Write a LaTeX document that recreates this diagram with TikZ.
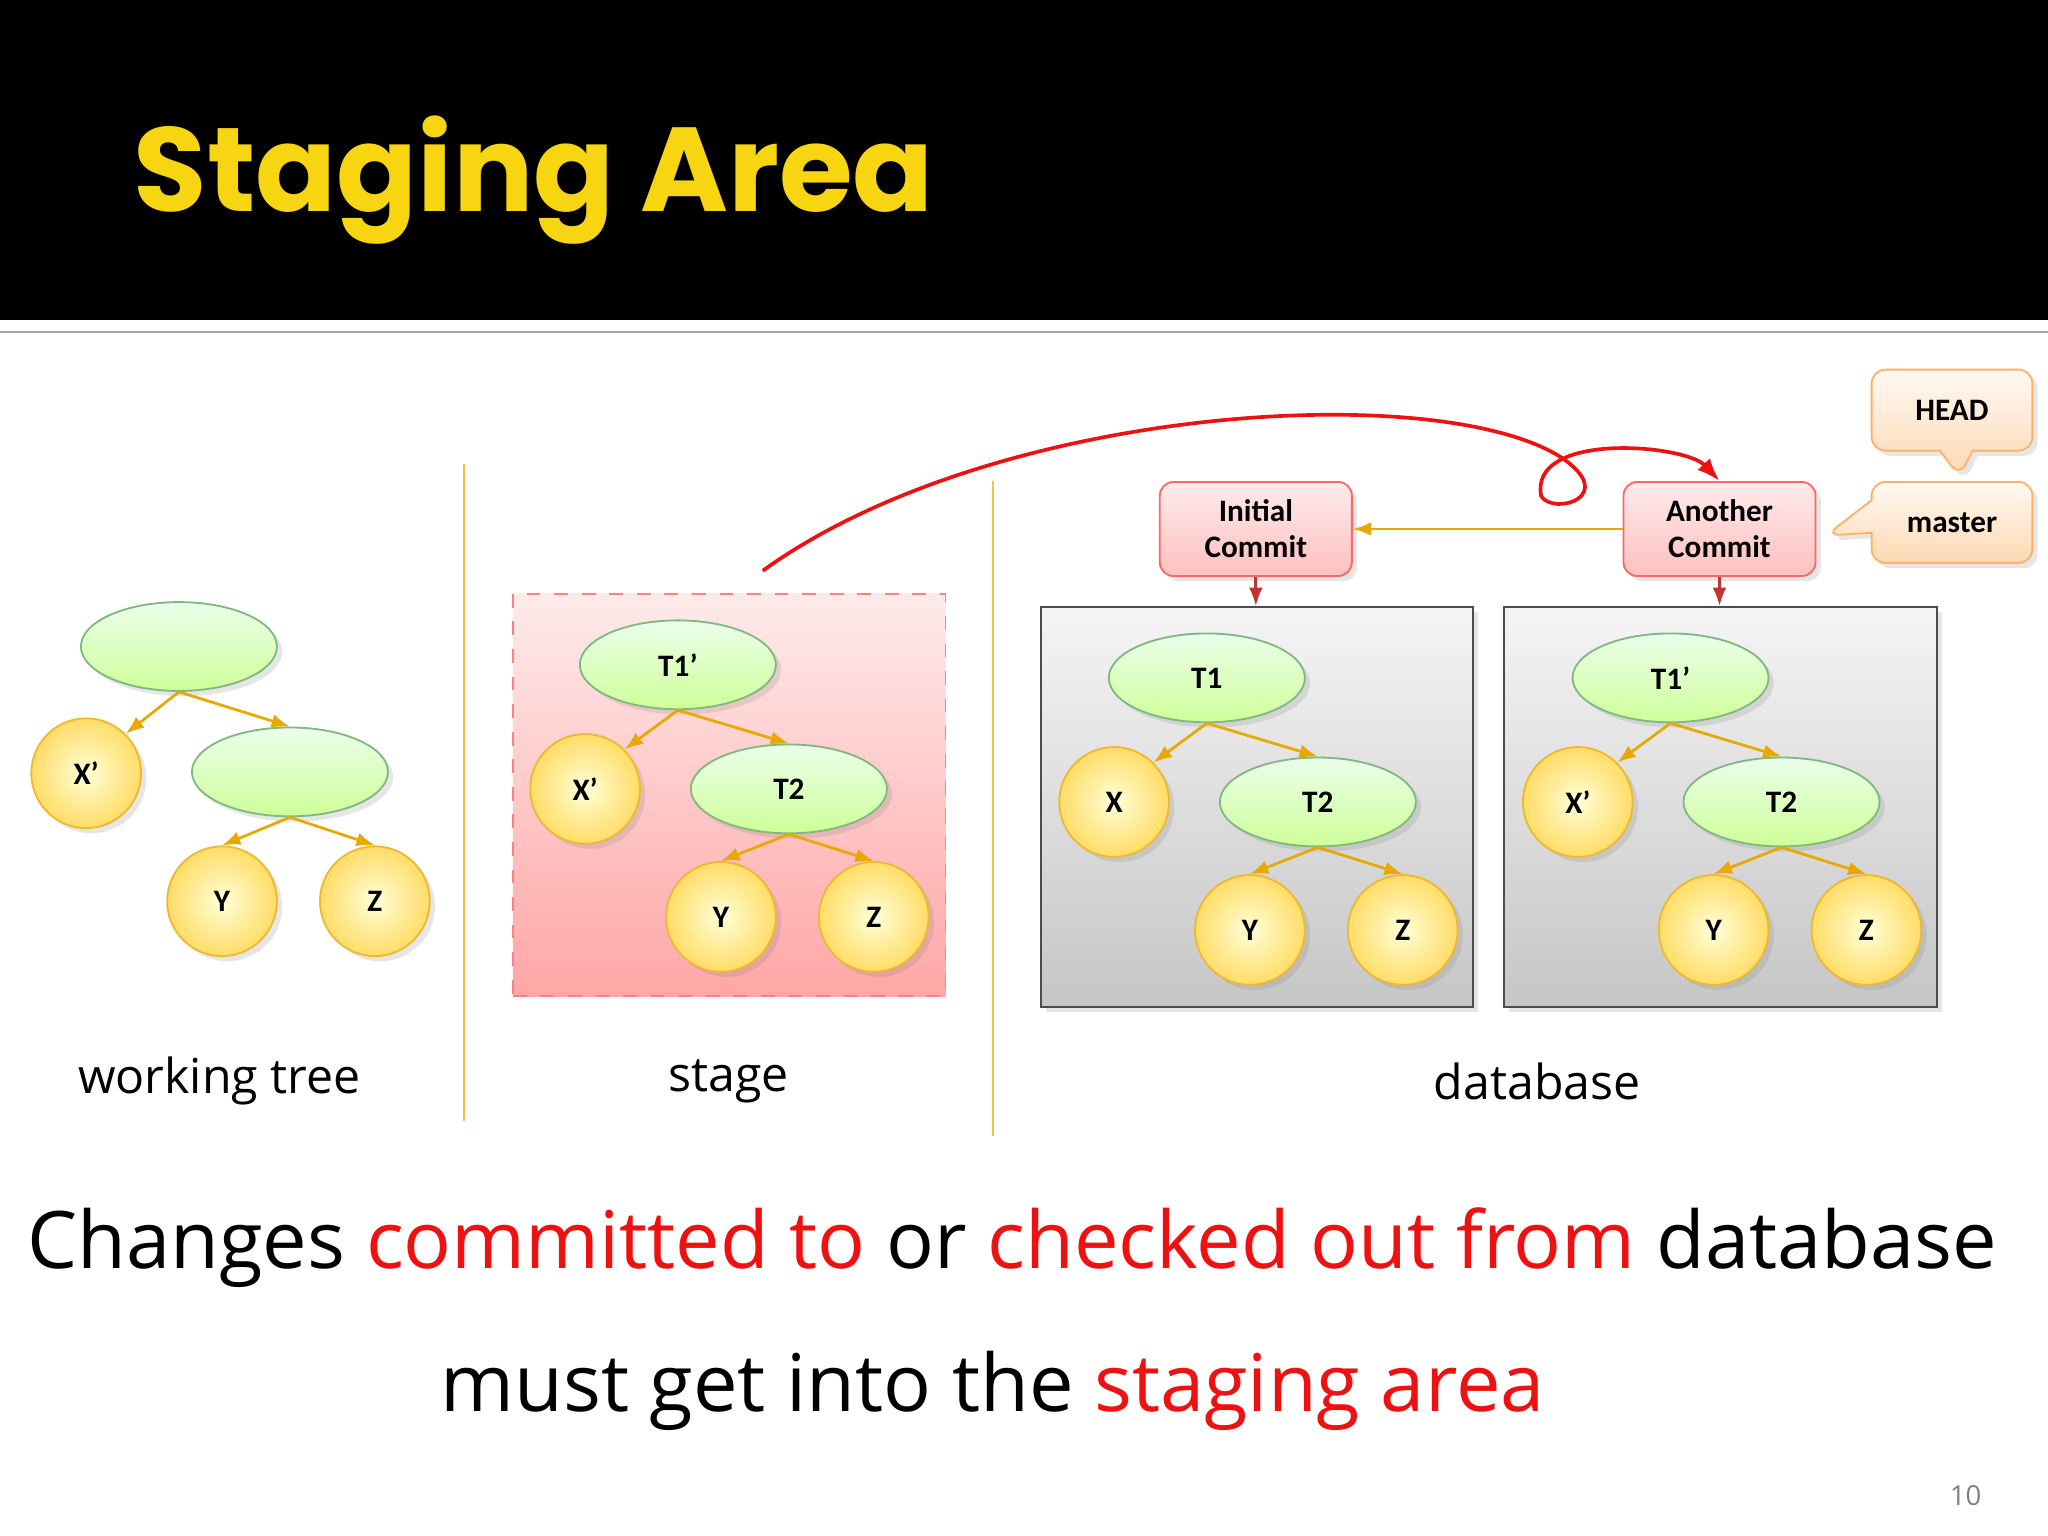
\documentclass[tikz,border=0pt]{standalone}
\usepackage{fontspec}
\setmainfont{Carlito}
\newfontfamily\titlefont{Poppins}
\newfontfamily\comic{Open Sans}
\usetikzlibrary{shapes.geometric,shapes.callouts,shadows,arrows.meta}
\definecolor{gold}{HTML}{E8A800}
\definecolor{ttl}{HTML}{F7D511}
\definecolor{rd}{HTML}{EE1111}
\begin{document}
\begin{tikzpicture}[x=0.01cm,y=-0.01cm,
 shd/.style={drop shadow={opacity=0.2,shadow xshift=0.04cm,shadow yshift=-0.04cm}},
 tr/.style={ellipse,minimum width=1.5cm,minimum height=0.68cm,draw=green!45!black!50,top color=green!8,bottom color=green!30!lime!40,shd,font=\fontsize{6.8}{7}\selectfont\bfseries},
 bl/.style={circle,minimum size=0.84cm,draw=gold!80,inner color=yellow!15,outer color=yellow!55!orange!60,shd,font=\fontsize{6.8}{7}\selectfont\bfseries},
 ed/.style={gold,line width=0.6pt,-{Latex[length=4pt]}},
 commitbox/.style={rectangle,rounded corners=3pt,draw=red!60,top color=red!8,bottom color=red!25,minimum width=1.47cm,minimum height=0.72cm,align=center,font=\fontsize{6.8}{7.8}\selectfont\bfseries,shd},
 co/.style={rectangle callout,rounded corners=3pt,draw=orange!60,top color=orange!5,bottom color=orange!30,minimum width=1.23cm,minimum height=0.62cm,font=\fontsize{6.8}{7}\selectfont\bfseries,shd},
 lab/.style={font=\comic\fontsize{10.5}{12}\selectfont},
 big/.style={font=\comic\fontsize{17.3}{20}\selectfont}]
\useasboundingbox (0,0) rectangle (1568,1176);
\fill[black] (0,0) rectangle (1568,245);
\draw[gray!70,line width=0.5pt] (0,254) -- (1568,254);
\node[anchor=west,text=ttl,font=\titlefont\bfseries\fontsize{26}{30}\selectfont] (title) at (90,138) {Staging Area};
\draw[gold!70,line width=0.5pt] (355,355) -- (355,858);
\draw[gold!70,line width=0.5pt] (760,368) -- (760,870);
% working tree
\node[tr] (w1) at (137,495) {};
\node[bl] (wx) at (66,592) {X'};
\node[tr] (w2) at (222,591) {};
\node[bl] (wy) at (170,690) {Y};
\node[bl] (wz) at (287,690) {Z};
\draw[ed] (w1.south) -- (wx.north east);
\draw[ed] (w1.south) -- (w2.north);
\draw[ed] (w2.south) -- (wy.north);
\draw[ed] (w2.south) -- (wz.north);
% stage
\node[draw=red!50,dashed,top color=red!8,bottom color=red!35,minimum width=3.31cm,minimum height=3.08cm,anchor=north west] (sbox) at (392,454) {};
\begin{scope}[shift={(382,14)}]
\node[tr] (s1) at (137,495) {T1'};
\node[bl] (sx) at (66,590) {X'};
\node[tr] (s2) at (222,590) {T2};
\node[bl] (sy) at (170,688) {Y};
\node[bl] (sz) at (287,688) {Z};
\end{scope}
\draw[ed] (s1.south) -- (sx.north east);
\draw[ed] (s1.south) -- (s2.north);
\draw[ed] (s2.south) -- (sy.north);
\draw[ed] (s2.south) -- (sz.north);
% db boxes
\node[draw=black!70,top color=gray!8,bottom color=gray!45,minimum width=3.31cm,minimum height=3.06cm,anchor=north west,shd] (b1) at (796,464) {};
\node[draw=black!70,top color=gray!8,bottom color=gray!45,minimum width=3.31cm,minimum height=3.06cm,anchor=north west,shd] (b2) at (1151,464) {};
\begin{scope}[shift={(787,24)}]
\node[tr] (a1) at (137,495) {T1};
\node[bl] (ax) at (66,590) {X};
\node[tr] (a2) at (222,590) {T2};
\node[bl] (ay) at (170,688) {Y};
\node[bl] (az) at (287,688) {Z};
\end{scope}
\begin{scope}[shift={(1142,24)}]
\node[tr] (c1) at (137,495) {T1'};
\node[bl] (cx) at (66,590) {X'};
\node[tr] (c2) at (222,590) {T2};
\node[bl] (cy) at (170,688) {Y};
\node[bl] (cz) at (287,688) {Z};
\end{scope}
\foreach \p in {a,c}{
\draw[ed] (\p1.south) -- (\p x.north east);
\draw[ed] (\p1.south) -- (\p2.north);
\draw[ed] (\p2.south) -- (\p y.north);
\draw[ed] (\p2.south) -- (\p z.north);}
% commits
\node[commitbox] (ic) at (961.5,405) {Initial\\Commit};
\node[commitbox] (ac) at (1316.5,405) {Another\\Commit};
\draw[ed] (ac.west) -- (ic.east);
\draw[red!70!black!80,line width=0.6pt,-{Latex[length=4pt]}] (ic.south) -- (b1.north -| ic.south);
\draw[red!70!black!80,line width=0.6pt,-{Latex[length=4pt]}] (ac.south) -- (b2.north -| ac.south);
\node[co,callout absolute pointer={(1500,365)}] (head) at (1494.5,314) {HEAD};
\node[co,callout absolute pointer={(1398,410)}] (master) at (1494.5,400) {master};
% red curve
\coordinate (rs) at (584,437);
\draw[rd,line width=0.8pt,-{Latex[length=5pt]}] (rs) .. controls (760,310) and (1100,290) .. (1195,350)
 .. controls (1240,380) and (1190,395) .. (1180,380)
 .. controls (1170,330) and (1290,340) .. (ac.north);
% labels
\node[lab] (l1) at (168,828) {working tree};
\node[lab] (l2) at (558,828) {stage};
\node[lab] (l3) at (1177,828) {database};
\node[big] (t1) at (775,955) {Changes \textcolor{rd}{committed to} or \textcolor{rd}{checked out from} database};
\node[big] (t2) at (760,1065) {must get into the \textcolor{rd}{staging area}};
\node[font=\comic\fontsize{6}{7}\selectfont,text=gray] (pg) at (1505,1145) {10};
\end{tikzpicture}
\end{document}
